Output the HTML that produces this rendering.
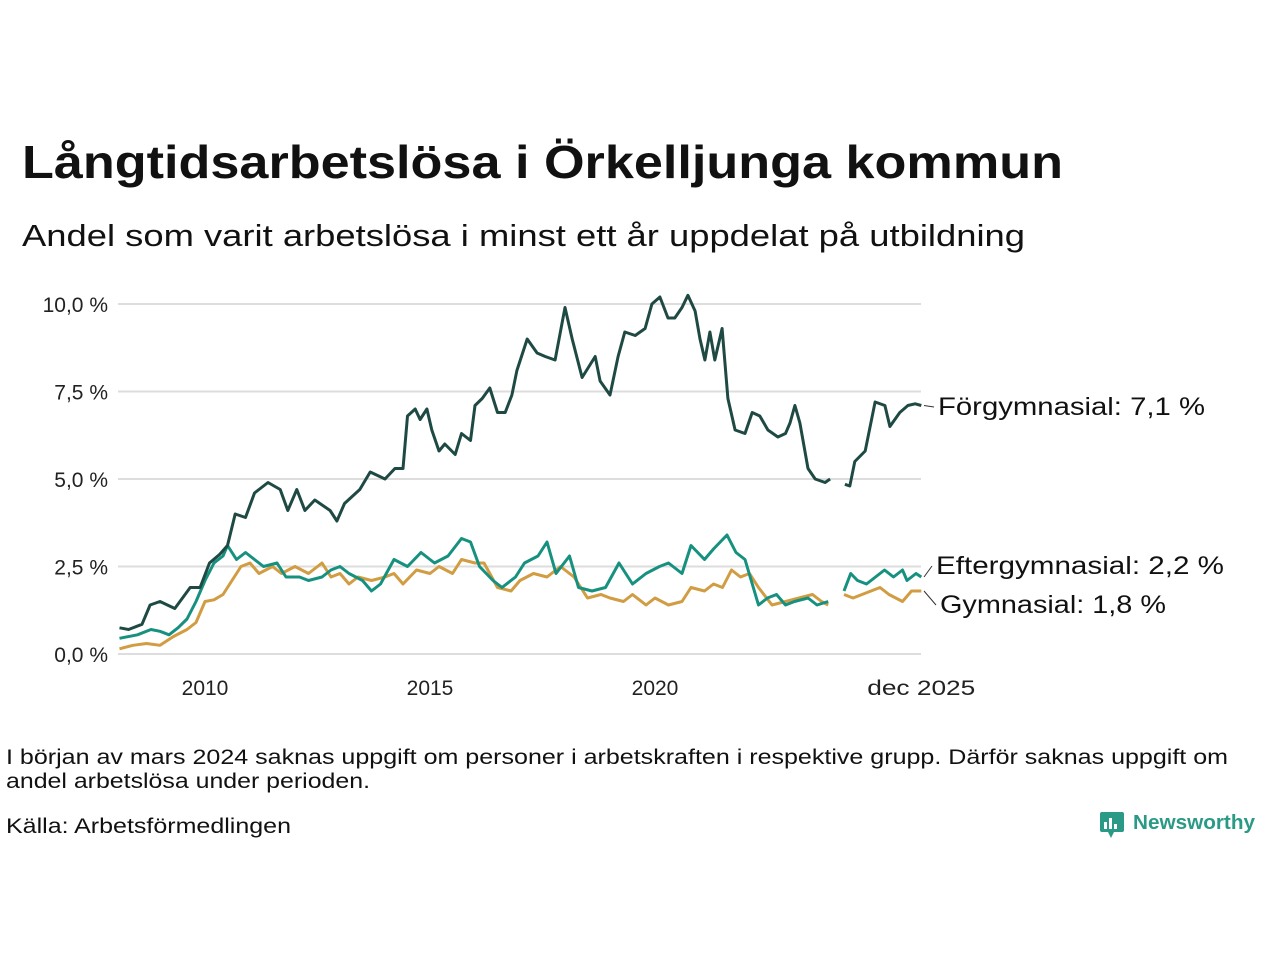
<!DOCTYPE html>
<html><head><meta charset="utf-8"><style>
body{margin:0;background:#fff;}
svg{display:block;font-family:"Liberation Sans","DejaVu Sans",sans-serif;}
</style></head><body>
<svg id="chart" width="1280" height="960" viewBox="0 0 1280 960">
<text x="22" y="178" font-size="46" font-weight="bold" fill="#111" textLength="1041" lengthAdjust="spacingAndGlyphs">Långtidsarbetslösa i Örkelljunga kommun</text>
<text x="22" y="246" font-size="31" fill="#111" textLength="1003" lengthAdjust="spacingAndGlyphs">Andel som varit arbetslösa i minst ett år uppdelat på utbildning</text>
<g id="grid"></g>
<g id="xaxis"></g>
<g id="series"></g>
<g id="labels"></g>
<text x="6" y="764" font-size="21" fill="#111" textLength="1222" lengthAdjust="spacingAndGlyphs">I början av mars 2024 saknas uppgift om personer i arbetskraften i respektive grupp. Därför saknas uppgift om</text>
<text x="6" y="788" font-size="21" fill="#111" textLength="364" lengthAdjust="spacingAndGlyphs">andel arbetslösa under perioden.</text>
<text x="6" y="833" font-size="21" fill="#111" textLength="285" lengthAdjust="spacingAndGlyphs">Källa: Arbetsförmedlingen</text>
<g>
<rect x="1100" y="812" width="24" height="20" rx="2" fill="#2a9a86"/>
<polygon points="1108,832 1114,832 1111,838" fill="#2a9a86"/>
<rect x="1104" y="822" width="3" height="7" fill="#fff"/><rect x="1109" y="818" width="3" height="11" fill="#fff"/><rect x="1114" y="824" width="3" height="5" fill="#fff"/>
<text x="1133" y="829" font-size="20" font-weight="bold" fill="#2a9a86" textLength="122" lengthAdjust="spacingAndGlyphs">Newsworthy</text>
</g>
</svg>
<script>
const yTicks=[0,2.5,5,7.5,10];
const yTickLabels=["0,0 %","2,5 %","5,0 %","7,5 %","10,0 %"];
const xTicks=[2010,2015,2020,2025.917];
const xTickLabels=["2010","2015","2020","dec 2025"];
const forgDates=[2008.1,2008.3,2008.6,2008.78,2009.0,2009.33,2009.67,2009.89,2010.1,2010.33,2010.5,2010.67,2010.9,2011.1,2011.4,2011.67,2011.84,2012.04,2012.22,2012.44,2012.78,2012.93,2013.1,2013.44,2013.67,2014.0,2014.22,2014.4,2014.5,2014.67,2014.78,2014.93,2015.04,2015.2,2015.33,2015.56,2015.7,2015.9,2016.0,2016.16,2016.33,2016.5,2016.67,2016.82,2016.93,2017.16,2017.38,2017.56,2017.78,2018.0,2018.16,2018.38,2018.67,2018.78,2019.0,2019.18,2019.33,2019.56,2019.78,2019.93,2020.11,2020.29,2020.44,2020.6,2020.73,2020.89,2021.0,2021.11,2021.22,2021.33,2021.49,2021.62,2021.78,2022.0,2022.16,2022.33,2022.51,2022.73,2022.9,2023.0,2023.11,2023.22,2023.4,2023.56,2023.78,2023.89,2024.05,2024.22,2024.33,2024.44,2024.67,2024.89,2025.11,2025.22,2025.44,2025.62,2025.78,2025.917];
const forgValues=[0.75,0.7,0.85,1.4,1.5,1.3,1.9,1.9,2.6,2.85,3.1,4.0,3.9,4.6,4.9,4.7,4.1,4.7,4.1,4.4,4.1,3.8,4.3,4.7,5.2,5.0,5.3,5.3,6.8,7.0,6.7,7.0,6.4,5.8,6.0,5.7,6.3,6.1,7.1,7.3,7.6,6.9,6.9,7.4,8.1,9.0,8.6,8.5,8.4,9.9,9.0,7.9,8.5,7.8,7.4,8.5,9.2,9.1,9.3,10.0,10.2,9.6,9.6,9.9,10.25,9.8,9.0,8.4,9.2,8.4,9.3,7.3,6.4,6.3,6.9,6.8,6.4,6.2,6.3,6.6,7.1,6.6,5.3,5.0,4.9,5.0,null,4.85,4.8,5.5,5.8,7.2,7.1,6.5,6.9,7.1,7.15,7.1];
const efterDates=[2008.1,2008.5,2008.8,2009.0,2009.2,2009.4,2009.6,2009.8,2010.0,2010.2,2010.4,2010.5,2010.7,2010.9,2011.1,2011.3,2011.6,2011.8,2012.1,2012.3,2012.6,2012.8,2013.0,2013.2,2013.5,2013.7,2013.9,2014.2,2014.5,2014.8,2015.1,2015.4,2015.7,2015.9,2016.1,2016.4,2016.6,2016.9,2017.1,2017.4,2017.6,2017.8,2018.1,2018.3,2018.6,2018.9,2019.2,2019.5,2019.8,2020.1,2020.3,2020.6,2020.8,2021.1,2021.3,2021.6,2021.8,2022.0,2022.3,2022.5,2022.7,2022.9,2023.1,2023.4,2023.6,2023.85,2024.05,2024.2,2024.35,2024.5,2024.7,2024.9,2025.1,2025.3,2025.5,2025.6,2025.8,2025.917];
const efterValues=[0.45,0.55,0.7,0.65,0.55,0.75,1.0,1.5,2.1,2.6,2.8,3.1,2.7,2.9,2.7,2.5,2.6,2.2,2.2,2.1,2.2,2.4,2.5,2.3,2.1,1.8,2.0,2.7,2.5,2.9,2.6,2.8,3.3,3.2,2.5,2.1,1.9,2.2,2.6,2.8,3.2,2.3,2.8,1.9,1.8,1.9,2.6,2.0,2.3,2.5,2.6,2.3,3.1,2.7,3.0,3.4,2.9,2.7,1.4,1.6,1.7,1.4,1.5,1.6,1.4,1.5,null,1.8,2.3,2.1,2.0,2.2,2.4,2.2,2.4,2.1,2.3,2.2];
const gymDates=[2008.1,2008.4,2008.7,2009.0,2009.3,2009.6,2009.8,2010.0,2010.2,2010.4,2010.6,2010.8,2011.0,2011.2,2011.5,2011.7,2012.0,2012.3,2012.6,2012.8,2013.0,2013.2,2013.4,2013.7,2014.0,2014.2,2014.4,2014.7,2015.0,2015.2,2015.5,2015.7,2016.0,2016.2,2016.5,2016.8,2017.0,2017.3,2017.6,2017.9,2018.2,2018.5,2018.8,2019.0,2019.3,2019.5,2019.8,2020.0,2020.3,2020.6,2020.8,2021.1,2021.3,2021.5,2021.7,2021.9,2022.1,2022.3,2022.6,2022.9,2023.2,2023.5,2023.7,2023.85,2024.05,2024.2,2024.4,2024.6,2024.8,2025.0,2025.2,2025.5,2025.7,2025.917];
const gymValues=[0.15,0.25,0.3,0.25,0.5,0.7,0.9,1.5,1.55,1.7,2.1,2.5,2.6,2.3,2.5,2.3,2.5,2.3,2.6,2.2,2.3,2.0,2.2,2.1,2.2,2.3,2.0,2.4,2.3,2.5,2.3,2.7,2.6,2.6,1.9,1.8,2.1,2.3,2.2,2.5,2.2,1.6,1.7,1.6,1.5,1.7,1.4,1.6,1.4,1.5,1.9,1.8,2.0,1.9,2.4,2.2,2.3,1.9,1.4,1.5,1.6,1.7,1.5,1.4,null,1.7,1.6,1.7,1.8,1.9,1.7,1.5,1.8,1.8];

const NS="http://www.w3.org/2000/svg";
const xS=v=>205+(v-2010)*45;
const yS=v=>654-v*35;
function mk(tag,attrs,parent){const e=document.createElementNS(NS,tag);for(const k in attrs)e.setAttribute(k,attrs[k]);parent.appendChild(e);return e;}
const grid=document.getElementById('grid'),xa=document.getElementById('xaxis'),ser=document.getElementById('series'),lab=document.getElementById('labels');
yTicks.forEach((t,i)=>{
  const l=mk('line',{x1:118,x2:921,y1:yS(t),y2:yS(t),stroke:'#ddd','stroke-width':2},grid);
  
  
  const tx=mk('text',{x:108,y:yS(t)+8,'text-anchor':'end','font-size':21,fill:'#222'},grid);
  tx.textContent=yTickLabels[i];
  
  
});
xTicks.forEach((t,i)=>{
  const tx=mk('text',{x:xS(t),y:695,'text-anchor':'middle','font-size':21,fill:'#222'},xa);
  if(i==xTicks.length-1){tx.setAttribute('textLength',108);tx.setAttribute('lengthAdjust','spacingAndGlyphs');}
  tx.textContent=xTickLabels[i];
  
  
});
function drawLine(dates,vals,color,name){
  let d='',pen=false;
  dates.forEach((t,i)=>{const v=vals[i];if(v==null){pen=false;return;}d+=(pen?'L':'M')+xS(t).toFixed(1)+','+yS(v).toFixed(1);pen=true;});
  const p=mk('path',{d:d,fill:'none',stroke:color,'stroke-width':3,'stroke-linejoin':'round'},ser);
  
  
}
drawLine(gymDates,gymValues,'#d19c42','line-gymnasial');
drawLine(efterDates,efterValues,'#17917f','line-eftergymnasial');
drawLine(forgDates,forgValues,'#1f4a44','line-forgymnasial');
function label(txt,lx,ly,px,py,w,name){
  const ln=mk('line',{x1:px+3,y1:py,x2:lx-4,y2:ly-8,stroke:'#333','stroke-width':1},lab);
  
  
  const t=mk('text',{x:lx,y:ly,'font-size':25,fill:'#111',textLength:w,lengthAdjust:'spacingAndGlyphs'},lab);
  t.textContent=txt;
  
  
}
const lastF=forgValues[forgValues.length-1],lastE=efterValues[efterValues.length-1],lastG=gymValues[gymValues.length-1];
label('Förgymnasial: '+String(lastF).replace('.',',')+' %',938,415,921,yS(lastF),267,'label-forgymnasial');
label('Eftergymnasial: '+String(lastE).replace('.',',')+' %',936,574,921,yS(lastE),288,'label-eftergymnasial');
label('Gymnasial: '+String(lastG).replace('.',',')+' %',940,613,921,yS(lastG),226,'label-gymnasial');
</script>
</body></html>
